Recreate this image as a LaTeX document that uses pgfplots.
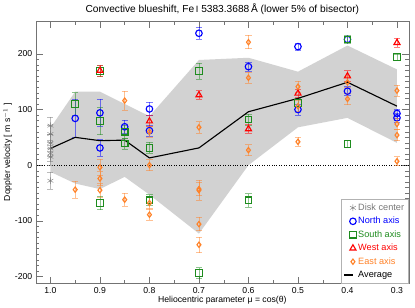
\documentclass[border=0pt]{standalone}
\usepackage{pgfplots}
\pgfplotsset{compat=1.18}
\usepackage{fontspec}
\setmainfont{Liberation Sans}
\definecolor{cblue}{RGB}{0,0,255}
\definecolor{cgreen}{RGB}{30,140,30}
\definecolor{cred}{RGB}{255,0,0}
\definecolor{corange}{RGB}{255,130,40}
\definecolor{cgray}{RGB}{120,120,120}
\pgfplotsset{avgleg/.style={legend image code/.code={\draw[##1] (0bp,0bp) -- (9bp,0bp);}}}
\begin{document}
\begin{tikzpicture}
\begin{axis}[
  scale only axis, width=365bp, height=257bp,
  x dir=reverse, xmin=0.276, xmax=1.0295,
  ymin=-213, ymax=259,
  xtick={0.3,0.4,0.5,0.6,0.7,0.8,0.9,1.0},
  xticklabels={0.3,0.4,0.5,0.6,0.7,0.8,0.9,1.0},
  ytick={-200,-100,0,100,200},
  yticklabels={-200,-100,0,100,200},
  minor x tick num=1, minor y tick num=9,
  major tick length=7bp, minor tick length=3.5bp,
  axis line style={black!55}, every tick/.style={black!55},
  tick label style={font=\fontsize{8.5}{10}\selectfont},
  label style={font=\fontsize{8.5}{10}\selectfont},
  xlabel={Heliocentric parameter μ = cos(θ)},
  ylabel={Doppler velocity [ m s$^{-1}$ ]},
  xlabel style={yshift=4bp},
  ylabel style={yshift=-4bp},
  title={Convective blueshift, Fe\,{\small I} 5383.3688\,Å (lower 5\% of bisector)},
  title style={font=\fontsize{10}{12}\selectfont, yshift=-3bp},
  legend cell align=left,
  legend style={at={(1,0)}, anchor=south east, draw=black!30, fill=white,
    font=\fontsize{9}{10.5}\selectfont, row sep=1.2pt, inner sep=2.5pt},
  error bars/error bar style={opacity=0.5, line width=0.7pt},
  error bars/error mark options={rotate=90, mark size=3bp, opacity=0.5, line width=0.7pt},
]
\coordinate (ne) at (rel axis cs:1,1);
% band
\addplot[fill=gray!35, draw=none, forget plot] coordinates {
(1.0,67)(0.95,132)(0.9,132)(0.85,110)(0.8,88)(0.7,189)(0.6,193)(0.5,168)(0.4,215)(0.3,172)
(0.3,40)(0.4,85)(0.5,68)(0.6,0)(0.7,-123)(0.8,-53)(0.85,-21)(0.9,-43)(0.95,-33)(1.0,-12)
} -- cycle;
\addplot[black, dotted, forget plot] coordinates {(0.276,0)(1.0295,0)};
% disk center
\addplot[only marks, mark=asterisk, cgray, mark size=3.3bp,
  error bars/.cd, y dir=both, y explicit] table[y error index=2] {
x y e
1.0 71 15
1.0 56 15
1.0 40 15
1.0 30 15
1.0 21 15
1.0 15 15
1.0 -28 15
};
\addlegendentry{\textcolor{cgray}{Disk center}}
% north
\addplot[only marks, mark=o, cblue, mark size=3.2bp, mark options={line width=1.1pt},
  error bars/.cd, y dir=both, y explicit] table[y error index=2] {
x y e
0.95 84 34
0.9 94 24
0.9 31 15
0.85 69 12
0.8 101 12
0.8 62 10
0.7 237 11
0.6 177 8
0.5 213 6
0.5 100 10
0.4 226 6
0.4 133 8
0.3 93 8
0.3 85 8
};
\addlegendentry{\textcolor{cblue}{North axis}}
% south
\addplot[only marks, mark=square, cgreen, mark size=3.2bp, mark options={line width=1.1pt},
  error bars/.cd, y dir=both, y explicit] table[y error index=2] {
x y e
0.95 110 20
0.9 169 10
0.9 79 24
0.9 -68 12
0.85 60 12
0.85 39 10
0.8 31 10
0.8 -63 10
0.7 169 14
0.7 -194 10
0.6 82 10
0.6 -63 12
0.5 112 8
0.4 226 8
0.4 38 6
0.3 194 6
};
\addlegendentry{\textcolor{cgreen}{South axis}}
% west
\addplot[only marks, mark=triangle, cred, mark size=3.4bp, mark options={line width=1.1pt},
  error bars/.cd, y dir=both, y explicit] table[y error index=2] {
x y e
0.9 170 10
0.8 79 10
0.7 126 8
0.6 65 8
0.5 129 8
0.4 160 10
0.3 220 8
};
\addlegendentry{\textcolor{cred}{West axis}}
% east
\addplot[only marks, mark=diamond, corange, mark size=2.6bp, mark options={line width=1.1pt},
  error bars/.cd, y dir=both, y explicit] table[y error index=2] {
x y e
0.95 -44 15
0.9 -4 15
0.9 -24 12
0.9 -45 12
0.85 116 17
0.85 -62 12
0.8 60 10
0.8 0 10
0.8 -68 10
0.8 -89 10
0.7 68 10
0.7 -45 18
0.7 -43 12
0.7 -106 12
0.7 -143 14
0.6 221 12
0.6 157 10
0.6 27 10
0.5 141 10
0.5 106 10
0.5 42 8
0.4 149 10
0.4 119 10
0.3 134 10
0.3 74 10
0.3 54 10
0.3 7 8
};
\addlegendentry{\textcolor{corange}{East axis}}
% average
\addplot[black, line width=1.1pt, mark=none, avgleg] coordinates {
(1.0,30)(0.95,50)(0.9,44)(0.85,45)(0.8,13)(0.7,31)(0.6,96)(0.5,120)(0.4,149)(0.3,106)
};
\addlegendentry{Average}
\end{axis}
\path (ne) ++(6bp,0);
\end{tikzpicture}
\end{document}
